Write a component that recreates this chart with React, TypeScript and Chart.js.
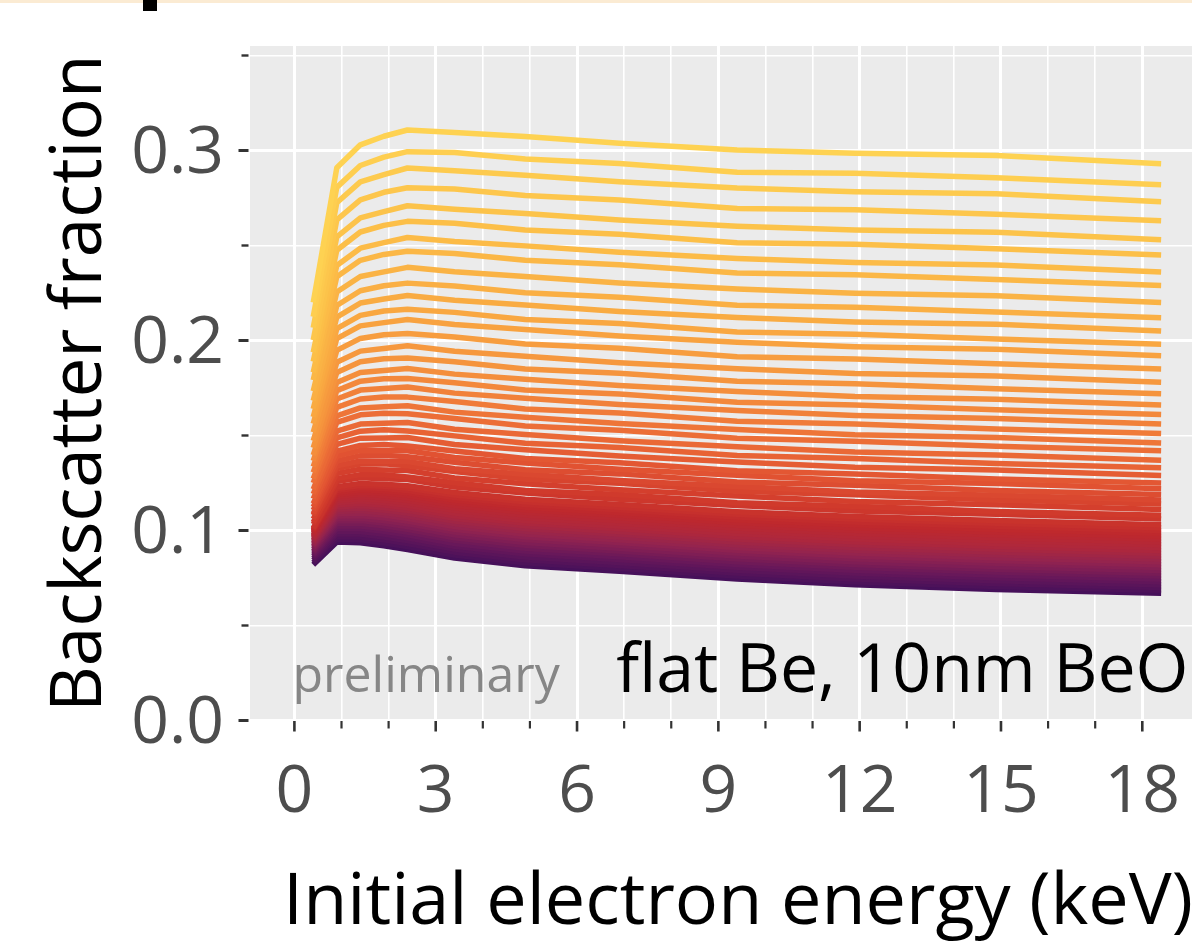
import React, { useEffect, useRef } from 'react';
import { Chart, registerables } from 'chart.js';

Chart.register(...registerables);

// Initial electron energy (keV) at which every curve is sampled
const energies = [0.4, 0.9, 1.4, 1.9, 2.4, 3.4, 4.9, 6.9, 9.4, 11.9, 14.9, 18.4];

// Backscatter fraction x 10^4, one row per curve, lowest curve first
const backscatterE4: number[][] = [
  [820, 940, 935, 920, 900, 855, 815, 785, 745, 715, 690, 670],
  [831, 955, 951, 935, 916, 871, 830, 801, 760, 730, 705, 685],
  [842, 969, 966, 951, 931, 886, 846, 816, 776, 745, 721, 700],
  [852, 983, 981, 966, 947, 902, 861, 831, 791, 761, 736, 715],
  [862, 997, 995, 981, 962, 917, 877, 847, 806, 776, 751, 730],
  [872, 1011, 1010, 996, 977, 932, 892, 862, 821, 791, 766, 745],
  [882, 1024, 1024, 1010, 992, 948, 907, 877, 836, 806, 781, 760],
  [891, 1038, 1038, 1025, 1007, 962, 922, 892, 851, 821, 796, 775],
  [900, 1051, 1052, 1039, 1021, 977, 937, 907, 866, 836, 811, 790],
  [909, 1063, 1065, 1053, 1036, 992, 952, 922, 881, 851, 827, 805],
  [918, 1076, 1079, 1067, 1050, 1007, 967, 937, 896, 866, 842, 820],
  [926, 1088, 1092, 1081, 1064, 1021, 981, 951, 911, 881, 857, 835],
  [934, 1100, 1105, 1094, 1078, 1036, 996, 966, 925, 896, 872, 850],
  [942, 1112, 1118, 1108, 1092, 1050, 1010, 981, 940, 911, 887, 865],
  [949, 1124, 1131, 1121, 1106, 1064, 1025, 995, 955, 926, 902, 880],
  [957, 1135, 1143, 1134, 1119, 1078, 1039, 1010, 969, 941, 917, 895],
  [964, 1147, 1156, 1147, 1133, 1092, 1053, 1024, 984, 956, 932, 910],
  [971, 1158, 1168, 1159, 1146, 1106, 1067, 1038, 999, 971, 947, 925],
  [977, 1169, 1180, 1172, 1159, 1120, 1082, 1053, 1013, 986, 962, 940],
  [984, 1179, 1192, 1184, 1172, 1133, 1096, 1067, 1027, 1001, 977, 955],
  [990, 1190, 1203, 1197, 1185, 1147, 1109, 1081, 1042, 1015, 992, 970],
  [996, 1200, 1215, 1209, 1198, 1160, 1123, 1095, 1056, 1030, 1007, 985],
  [1002, 1211, 1226, 1221, 1211, 1174, 1137, 1109, 1071, 1045, 1023, 1000],
  [1008, 1221, 1237, 1233, 1223, 1187, 1151, 1123, 1085, 1060, 1038, 1015],
  [1013, 1230, 1248, 1244, 1236, 1200, 1165, 1137, 1099, 1074, 1053, 1030],
  [1033, 1258, 1277, 1272, 1268, 1229, 1197, 1164, 1131, 1102, 1085, 1060],
  [1043, 1273, 1294, 1293, 1282, 1251, 1211, 1189, 1146, 1127, 1100, 1080],
  [1061, 1300, 1322, 1319, 1316, 1276, 1246, 1215, 1182, 1152, 1135, 1110],
  [1080, 1326, 1350, 1351, 1341, 1311, 1271, 1249, 1206, 1188, 1160, 1140],
  [1089, 1341, 1366, 1364, 1363, 1325, 1296, 1263, 1231, 1202, 1186, 1160],
  [1107, 1366, 1394, 1396, 1388, 1359, 1320, 1298, 1255, 1238, 1211, 1190],
  [1124, 1392, 1421, 1420, 1420, 1384, 1355, 1322, 1291, 1262, 1247, 1220],
  [1141, 1417, 1448, 1452, 1445, 1418, 1379, 1357, 1315, 1298, 1271, 1250],
  [1167, 1453, 1486, 1487, 1489, 1453, 1425, 1392, 1361, 1333, 1318, 1290],
  [1192, 1488, 1523, 1530, 1524, 1498, 1459, 1437, 1395, 1379, 1352, 1330],
  [1217, 1523, 1560, 1564, 1568, 1533, 1505, 1472, 1441, 1413, 1398, 1370],
  [1250, 1569, 1609, 1617, 1614, 1589, 1550, 1528, 1485, 1470, 1443, 1420],
  [1273, 1603, 1645, 1651, 1657, 1623, 1596, 1563, 1531, 1504, 1489, 1460],
  [1305, 1648, 1692, 1703, 1702, 1679, 1640, 1618, 1575, 1560, 1534, 1510],
  [1336, 1692, 1739, 1747, 1755, 1723, 1696, 1663, 1631, 1605, 1590, 1560],
  [1367, 1736, 1786, 1799, 1800, 1778, 1740, 1718, 1675, 1661, 1635, 1610],
  [1397, 1779, 1832, 1842, 1853, 1823, 1796, 1763, 1731, 1705, 1691, 1660],
  [1435, 1832, 1888, 1904, 1908, 1888, 1850, 1828, 1785, 1772, 1746, 1720],
  [1472, 1885, 1944, 1958, 1972, 1943, 1917, 1883, 1851, 1826, 1813, 1780],
  [1517, 1948, 2011, 2030, 2037, 2018, 1981, 1959, 1915, 1903, 1877, 1850],
  [1562, 2010, 2077, 2094, 2111, 2084, 2058, 2024, 1991, 1967, 1954, 1920],
  [1597, 2062, 2132, 2155, 2165, 2148, 2111, 2089, 2045, 2033, 2008, 1980],
  [1640, 2123, 2197, 2218, 2237, 2212, 2187, 2153, 2121, 2098, 2085, 2050],
  [1683, 2184, 2262, 2288, 2302, 2287, 2251, 2228, 2185, 2175, 2150, 2120],
  [1733, 2255, 2337, 2361, 2385, 2362, 2337, 2303, 2271, 2249, 2236, 2200],
  [1791, 2336, 2422, 2453, 2470, 2458, 2422, 2399, 2355, 2346, 2321, 2290],
  [1832, 2395, 2486, 2515, 2542, 2521, 2498, 2464, 2431, 2410, 2398, 2360],
  [1889, 2475, 2571, 2606, 2627, 2617, 2582, 2559, 2515, 2507, 2483, 2450],
  [1938, 2545, 2645, 2678, 2709, 2691, 2668, 2634, 2601, 2581, 2570, 2530],
  [2002, 2635, 2740, 2780, 2804, 2797, 2763, 2740, 2695, 2688, 2665, 2630],
  [2067, 2725, 2835, 2873, 2908, 2893, 2870, 2835, 2802, 2783, 2772, 2730],
  [2125, 2806, 2921, 2965, 2994, 2989, 2955, 2931, 2886, 2880, 2857, 2820],
  [2200, 2909, 3030, 3075, 3108, 3095, 3074, 3038, 3003, 2986, 2974, 2930],
];

const xTickValues = [0, 3, 6, 9, 12, 15, 18];
const yTickValues = [0, 0.1, 0.2, 0.3];
const xAxisTitle = 'Initial electron energy (keV)';
const yAxisTitle = 'Backscatter fraction';
const panelLabel = 'flat Be, 10nm BeO';
const watermark = 'preliminary';

// colour ramp, lowest curve -> highest curve
const colourStops = [
  '#46105a', '#69185a', '#912350', '#af283c', '#be282d', '#d03a2c',
  '#e15232', '#ed7037', '#f5913c', '#f9aa42', '#fcbe48', '#fed252',
];

// ---- layout / style constants ----
const FONT = "'Open Sans', 'Noto Sans', sans-serif";
const CANVAS_W = 1226;
const CANVAS_H = 943;
const PANEL_LEFT = 250;
const PANEL_TOP = 46;
const PANEL_BOTTOM = 720.5;
const X_MIN = -0.9426;
const X_MAX = 19.777;
const Y_MAX = 0.355;

function hexToRgb(h: string) {
  return [parseInt(h.slice(1, 3), 16), parseInt(h.slice(3, 5), 16), parseInt(h.slice(5, 7), 16)];
}

function rampColour(f: number) {
  const n = colourStops.length - 1;
  const p = Math.max(0, Math.min(1, f)) * n;
  const k = Math.min(Math.floor(p), n - 1);
  const t = p - k;
  const a = hexToRgb(colourStops[k]);
  const b = hexToRgb(colourStops[k + 1]);
  const c = a.map((v, j) => Math.round(v + (b[j] - v) * t));
  return `rgb(${c[0]},${c[1]},${c[2]})`;
}

const isMult = (v: number, step: number) => Math.abs(v / step - Math.round(v / step)) < 1e-6;

const panelPlugin = {
  id: 'panelDecor',
  beforeDraw(chart: any) {
    const { ctx, chartArea: a } = chart;
    ctx.save();
    ctx.fillStyle = '#ffffff';
    ctx.fillRect(0, 0, chart.width, chart.height);
    ctx.fillStyle = '#ebebeb';
    ctx.fillRect(a.left, a.top, a.right - a.left, a.bottom - a.top);
    ctx.restore();
  },
  afterDraw(chart: any) {
    const { ctx, chartArea: a } = chart;
    const xs = chart.scales.x;
    const ys = chart.scales.y;
    ctx.save();
    ctx.strokeStyle = '#333333';
    ctx.lineCap = 'butt';
    for (const t of xs.ticks) {
      if (t.value < 0 || t.value > 18.5) continue;
      const px = xs.getPixelForValue(t.value);
      const major = isMult(t.value, 3);
      ctx.lineWidth = major ? 2.6 : 2.2;
      ctx.beginPath();
      ctx.moveTo(px, a.bottom + 0.5);
      ctx.lineTo(px, a.bottom + (major ? 11 : 8));
      ctx.stroke();
    }
    for (const t of ys.ticks) {
      const py = ys.getPixelForValue(t.value);
      const major = isMult(t.value, 0.1);
      ctx.lineWidth = major ? 3 : 2.4;
      ctx.beginPath();
      ctx.moveTo(a.left - 1.5, py);
      ctx.lineTo(a.left - 1.5 - (major ? 10 : 7), py);
      ctx.stroke();
    }
    // annotations
    ctx.textBaseline = 'alphabetic';
    ctx.font = `68px ${FONT}`;
    ctx.fillStyle = '#000000';
    ctx.textAlign = 'right';
    ctx.fillText(panelLabel, xs.getPixelForValue(18.98), ys.getPixelForValue(0.015));
    ctx.font = `50px ${FONT}`;
    ctx.fillStyle = '#868686';
    ctx.textAlign = 'left';
    ctx.fillText(watermark, xs.getPixelForValue(-0.04), ys.getPixelForValue(0.015));
    ctx.restore();
  },
};

export default function App() {
  const ref = useRef<HTMLCanvasElement | null>(null);

  useEffect(() => {
    const canvas = ref.current;
    if (!canvas) return;
    const n = backscatterE4.length;
    const datasets = backscatterE4
      .map((row, i) => ({
        label: `curve ${i + 1}`,
        data: row.map((v, k) => ({ x: energies[k], y: v / 10000 })),
        borderColor: rampColour(i / (n - 1)),
        backgroundColor: rampColour(i / (n - 1)),
        borderWidth: 5.5,
        pointRadius: 0,
        pointHoverRadius: 0,
        tension: 0,
        fill: false,
        borderJoinStyle: 'round' as const,
        borderCapStyle: 'butt' as const,
      }))
      .reverse(); // highest curve first so it is painted on top

    const chart: any = new Chart(canvas, {
      type: 'line',
      data: { datasets },
      options: {
        animation: false,
        responsive: false,
        devicePixelRatio: 1,
        events: [],
        layout: { padding: { top: PANEL_TOP, left: 0, right: 0, bottom: 0 } },
        plugins: { legend: { display: false }, tooltip: { enabled: false }, title: { display: false } },
        scales: {
          x: {
            type: 'linear',
            min: X_MIN,
            max: X_MAX,
            afterFit: (s: any) => {
              s.height = CANVAS_H - PANEL_BOTTOM;
              s.paddingLeft = 0;
              s.paddingRight = 0;
            },
            border: { display: false },
            grid: {
              drawTicks: false,
              color: (c: any) => (c.tick && (c.tick.value > 18.5 || c.tick.value < 0) ? 'rgba(0,0,0,0)' : '#ffffff'),
              lineWidth: (c: any) => (c.tick && isMult(c.tick.value, 3) ? 3 : 1.6),
            },
            ticks: {
              stepSize: 1,
              includeBounds: false,
              autoSkip: false,
              maxRotation: 0,
              minRotation: 0,
              padding: 40,
              color: '#4d4d4d',
              font: { family: FONT, size: 66, lineHeight: 1 },
              callback: (v: any) => (xTickValues.some((t) => Math.abs(t - v) < 1e-9) ? String(v) : ''),
            },
            title: {
              display: true,
              text: xAxisTitle,
              color: '#000000',
              font: { family: FONT, size: 72, lineHeight: 1 },
              padding: { top: 0, bottom: 4 },
            },
          },
          y: {
            type: 'linear',
            min: 0,
            max: Y_MAX,
            afterFit: (s: any) => {
              s.width = PANEL_LEFT;
              s.paddingTop = 0;
              s.paddingBottom = 0;
            },
            border: { display: false },
            grid: {
              drawTicks: false,
              color: '#ffffff',
              lineWidth: (c: any) => (c.tick && isMult(c.tick.value, 0.1) ? 3 : 1.6),
            },
            ticks: {
              stepSize: 0.05,
              includeBounds: false,
              autoSkip: false,
              padding: 26,
              labelOffset: 4,
              color: '#4d4d4d',
              font: { family: FONT, size: 66, lineHeight: 1 },
              callback: (v: any) => (yTickValues.some((t) => Math.abs(t - v) < 1e-9) ? Number(v).toFixed(1) : ''),
            },
            title: {
              display: true,
              text: yAxisTitle,
              color: '#000000',
              font: { family: FONT, size: 71, lineHeight: 1 },
              padding: { top: 45, bottom: 0 },
            },
          },
        },
      },
      plugins: [panelPlugin],
    } as any);

    // keep the panel exactly where the reference has it
    const area = chart.chartArea;
    const dTop = area.top - PANEL_TOP;
    if (Math.abs(dTop) > 0.25) {
      chart.options.layout.padding.top = PANEL_TOP - dTop;
      chart.update();
    }

    return () => {
      chart.destroy();
    };
  }, []);

  return (
    <div
      style={{
        position: 'fixed',
        left: 0,
        top: 0,
        width: 1192,
        height: 943,
        overflow: 'hidden',
        background: '#ffffff',
      }}
    >
      <canvas
        ref={ref}
        width={CANVAS_W}
        height={CANVAS_H}
        style={{ position: 'absolute', left: 0, top: 0, width: CANVAS_W, height: CANVAS_H }}
      />
      <div style={{ position: 'absolute', left: 0, top: 0, width: 1192, height: 3, background: '#fbebd3' }} />
      <div style={{ position: 'absolute', left: 143, top: 0, width: 14, height: 11, background: '#000000' }} />
    </div>
  );
}
